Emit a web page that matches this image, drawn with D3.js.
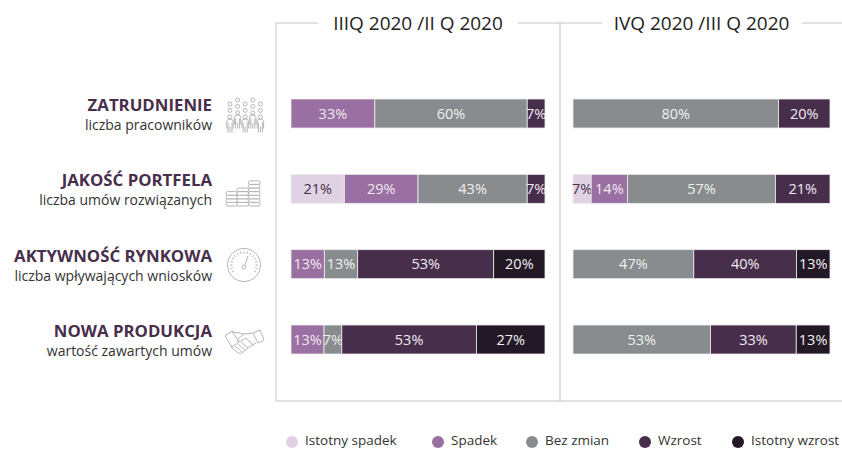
<!DOCTYPE html>
<html>
<head>
<meta charset="utf-8">
<script src="https://cdn.jsdelivr.net/npm/d3@7"></script>
<style>
html, body { margin: 0; padding: 0; background: #fff; overflow: hidden; }
svg { display: block; }
text { font-family: "Open Sans", sans-serif; }
</style>
</head>
<body>
<div id="chart"></div>
<script>
const categories = ['Istotny spadek', 'Spadek', 'Bez zmian', 'Wzrost', 'Istotny wzrost']
const rowTitles = ['ZATRUDNIENIE', 'JAKOŚĆ PORTFELA', 'AKTYWNOŚĆ RYNKOWA', 'NOWA PRODUKCJA']
const rowSubtitles = ['liczba pracowników', 'liczba umów rozwiązanych', 'liczba wpływających wniosków', 'wartość zawartych umów']
const panelTitles = ['IIIQ 2020 /II Q 2020', 'IVQ 2020 /III Q 2020']

// one row per metric, columns follow categories
const panel1Values = [
    [0, 33, 60, 7, 0],
    [21, 29, 43, 7, 0],
    [0, 13, 13, 53, 20],
    [0, 13, 7, 53, 27]
]
const panel2Values = [
    [0, 0, 80, 20, 0],
    [7, 14, 57, 21, 0],
    [0, 0, 47, 40, 13],
    [0, 0, 53, 33, 13]
]

const colors = ['#e0d2e3', '#9a6fa1', '#888c8e', '#472f4c', '#231826']
const labelColors = ['#472f4c', '#f1eaf2', '#f1f1f1', '#f1eaf2', '#f1f1f1']
const legendX = [292, 438, 532, 645, 738]

const width = 842
const height = 449
const gridColor = '#c4c4c4'
const iconColor = '#a3a3a3'

const svg = d3.select('#chart').append('svg')
    .attr('width', width)
    .attr('height', height)

const rowY = d3.scalePoint().domain(d3.range(4)).range([99, 325])
const barHeight = 29

function drawPanel(values, x0, x1){
    values.forEach((row, i) => {
        const total = d3.sum(row)
        const x = d3.scaleLinear().domain([0, total]).range([x0, x1])
        let acc = 0
        row.forEach((v, c) => {
            if(v == 0) return
            const left = x(acc)
            const right = x(acc + v)
            const g = svg.append('g')
            g.append('rect')
                .attr('x', left)
                .attr('y', rowY(i))
                .attr('width', right - left)
                .attr('height', barHeight)
                .attr('fill', colors[c])
                .attr('stroke', '#eeeeee')
                .attr('stroke-width', 0.8)
            g.append('text')
                .attr('x', (left + right) / 2)
                .attr('y', rowY(i) + barHeight / 2 + 5)
                .attr('text-anchor', 'middle')
                .attr('font-size', 14.5)
                .attr('fill', labelColors[c])
                .text(v + '%')
            acc += v
        })
    })
}

// frame lines
const frame = [
    [276, 23, 276, 401], [276, 401, 842, 401], [560, 23, 560, 401],
    [276, 23, 318, 23], [518, 23, 602, 23], [802, 23, 842, 23]
]
svg.selectAll('.frame').data(frame).join('line')
    .attr('class', 'frame')
    .attr('x1', d => d[0]).attr('y1', d => d[1])
    .attr('x2', d => d[2]).attr('y2', d => d[3])
    .attr('stroke', gridColor)
    .attr('stroke-width', 1)

svg.selectAll('.panel-title').data(panelTitles).join('text')
    .attr('class', 'panel-title')
    .attr('x', (d, i) => i == 0 ? 418 : 701.5)
    .attr('y', 30)
    .attr('text-anchor', 'middle')
    .attr('font-size', 19)
    .attr('fill', '#222')
    .text(d => d)

drawPanel(panel1Values, 291, 545)
drawPanel(panel2Values, 573, 830)

// row labels
rowTitles.forEach((t, i) => {
    svg.append('text')
        .attr('x', 212)
        .attr('y', rowY(i) + 12)
        .attr('text-anchor', 'end')
        .attr('font-size', 16.8)
        .attr('font-weight', 700)
        .attr('fill', '#472f4c')
        .text(t)
    svg.append('text')
        .attr('x', 212)
        .attr('y', rowY(i) + 31)
        .attr('text-anchor', 'end')
        .attr('font-size', 14)
        .attr('fill', '#333')
        .text(rowSubtitles[i])
})

// icons
function peopleIcon(g){
    d3.range(5).forEach(c => {
        const px = 230 + c * 7.6
        const top = c % 2 ? 100 : 104
        d3.range(3).forEach(k => {
            g.append('circle').attr('cx', px).attr('cy', top + k * 6.4).attr('r', 2)
        })
        const s = top + 15.5
        g.append('path').attr('d', `M${px - 3.2} ${s + 9}V${s + 2}q0-2.5 3.2-2.5t3.2 2.5V${s + 9}M${px - 2} ${s + 3}V${s + 13}M${px + 2} ${s + 3}V${s + 13}M${px} ${s + 7}V${s + 13}`)
    })
}
function coinsIcon(g){
    const stacks = [[226, 190], [237, 185], [248.5, 179]]
    const bottom = 206
    stacks.forEach(([sx, topY]) => {
        for(let cy = bottom - 3.6; cy >= topY; cy -= 3.6){
            g.append('rect').attr('x', sx).attr('y', cy).attr('width', 11.5).attr('height', 3.6).attr('rx', 1.6)
                .attr('fill', '#fff')
        }
    })
}
function gaugeIcon(g){
    const cx = 244, cy = 265, r = 16.5
    g.append('circle').attr('cx', cx).attr('cy', cy).attr('r', r)
    d3.range(-120, 121, 15).forEach(a => {
        const t = (a - 90) * Math.PI / 180
        g.append('line')
            .attr('x1', cx + Math.cos(t) * (r - 5)).attr('y1', cy + Math.sin(t) * (r - 5))
            .attr('x2', cx + Math.cos(t) * (r - 2.5)).attr('y2', cy + Math.sin(t) * (r - 2.5))
    })
    g.append('circle').attr('cx', cx).attr('cy', cy + 2).attr('r', 2)
    g.append('line').attr('x1', cx + 1).attr('y1', cy).attr('x2', cx + 4).attr('y2', cy - 9)
}
function handshakeIcon(g){
    g.append('path').attr('d', 'M225 336l7-5 7 11-7 5zM253 333l7-3 4 10-6 3z')
    g.append('path').attr('d', 'M232 332l8 1 4 1 9-1M256 343l-4 2-10 8c-2 1-4 0-5-1l-5-4-1-2M244 334l-6 5c-1 2 1 3 3 2l5-3 8 8')
    g.append('path').attr('d', 'M235 346l7 6M238 344l7 6M241 342l7 6')
}
const iconG = svg.append('g')
    .attr('fill', 'none')
    .attr('stroke', iconColor)
    .attr('stroke-width', 0.8)
peopleIcon(iconG)
coinsIcon(iconG)
gaugeIcon(iconG)
handshakeIcon(iconG)

// legend
categories.forEach((c, i) => {
    svg.append('circle')
        .attr('cx', legendX[i])
        .attr('cy', 442)
        .attr('r', 6)
        .attr('fill', colors[i])
    svg.append('text')
        .attr('x', legendX[i] + 13)
        .attr('y', 445)
        .attr('font-size', 13.5)
        .attr('fill', '#333')
        .text(c)
})
</script>
</body>
</html>
